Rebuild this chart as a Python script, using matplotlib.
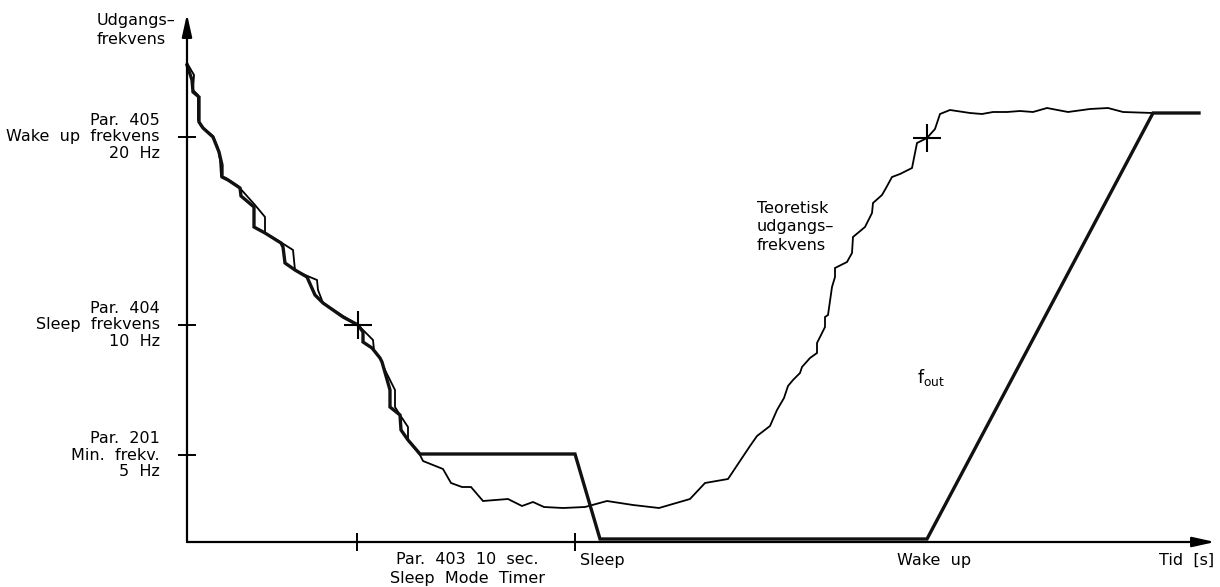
import matplotlib
matplotlib.use("Agg")
import matplotlib.pyplot as plt

# schematic chart units: x = time (tid), y = output frequency (not to scale)
fout_t = [0, 5, 6, 12, 12, 16, 26, 32, 35, 35, 41, 53, 54, 67, 67, 78, 94, 96, 98, 108,
          120, 128, 136, 156, 171, 176, 176, 185, 193, 195, 199, 203, 203, 213, 214, 221,
          233, 388, 413, 740, 966, 1012]
fout_f = [477, 462, 450, 445, 420, 414, 405, 390, 377, 365, 362, 354, 346, 335, 315, 309,
          299, 295, 279, 272, 265, 247, 239, 225, 217, 210, 200, 194, 184, 180, 166, 152,
          135, 127, 112, 102, 88, 88, 3, 3, 429, 429]

theo_t = [0, 7, 6, 11, 11, 14, 26, 31, 33, 34, 39, 51, 68, 78, 78, 95, 106, 108, 118, 130,
          131, 136, 156, 171, 186, 187, 193, 198, 208, 208, 213, 221, 221, 233, 236, 256,
          264, 275, 284, 296, 321, 335, 346, 357, 376, 398, 420, 446, 472, 503, 518, 541,
          563, 570, 583, 590, 597, 601, 606, 613, 615, 623, 630, 630, 638, 638, 641, 645,
          648, 648, 660, 665, 666, 678, 685, 686, 695, 699, 705, 713, 725, 730, 740, 748,
          753, 763, 783, 795, 806, 820, 833, 846, 853, 860, 881, 903, 921, 936, 966, 1012]
theo_f = [479, 467, 452, 447, 422, 416, 406, 394, 382, 366, 364, 356, 337, 325, 309, 299,
          292, 272, 267, 262, 252, 239, 226, 217, 202, 192, 184, 172, 152, 135, 127, 115,
          102, 87, 81, 73, 59, 55, 55, 41, 43, 36, 40, 35, 34, 35, 41, 37, 34, 43, 59, 63,
          96, 106, 116, 132, 144, 156, 162, 169, 175, 184, 189, 199, 215, 225, 227, 255,
          265, 274, 280, 289, 305, 315, 329, 339, 347, 354, 365, 368, 374, 399, 404, 413,
          428, 432, 429, 428, 430, 430, 431, 430, 432, 434, 430, 433, 434, 430, 429, 429]

ytick_pos = [405, 217, 87]
ytick_labels = ["Par.  405\nWake  up  frekvens\n20  Hz",
                "Par.  404\nSleep  frekvens\n10  Hz",
                "Par.  201\nMin.  frekv.\n5  Hz"]
xtick_pos = [170, 388]
cross_t = [171, 740]
cross_f = [217, 404]

plt.rcParams["font.family"] = "DejaVu Sans"
fig = plt.figure(figsize=(12.2, 5.87), dpi=100)
ax = fig.add_axes([0, 0, 1, 1])
ax.set_xlim(-187, 1033)
ax.set_ylim(-45, 542)
ax.axis("off")

# axes with arrows
arrow = dict(arrowstyle="-|>,head_length=0.9,head_width=0.2", lw=1.6, color="black",
             mutation_scale=15, shrinkA=0, shrinkB=0)
ax.annotate("", xy=(1028, 0), xytext=(0, 0), arrowprops=arrow)
ax.annotate("", xy=(0, 528), xytext=(0, 0), arrowprops=arrow)

ax.hlines(ytick_pos, -9, 9, color="black", lw=1.4)
ax.vlines(xtick_pos, -9, 9, color="black", lw=1.4)

ax.plot(theo_t, theo_f, color="black", lw=1.3, solid_joinstyle="miter")
ax.plot(fout_t, fout_f, color="#111111", lw=2.4, solid_joinstyle="miter")
ax.plot(cross_t, cross_f, ls="none", marker="+", ms=20, mew=1.5, color="black")

fs = 11.5
for y, lab in zip(ytick_pos, ytick_labels):
    ax.text(-27, y, lab, ha="right", va="center", fontsize=fs, linespacing=1.12)

ax.text(-90, 512, "Udgangs–\nfrekvens", ha="left", va="center", fontsize=fs, linespacing=1.35)
ax.text(280, -10, "Par.  403  10  sec.\nSleep  Mode  Timer", ha="center", va="top",
        fontsize=fs, linespacing=1.3)
ax.text(393, -18, "Sleep", ha="left", va="center", fontsize=fs)
ax.text(710, -18, "Wake  up", ha="left", va="center", fontsize=fs)
ax.text(1027, -18, "Tid  [s]", ha="right", va="center", fontsize=fs)
ax.text(570, 315, "Teoretisk\nudgangs–\nfrekvens", ha="left", va="center",
        fontsize=fs, linespacing=1.3)
ax.text(730, 164, r"f$_{\mathrm{out}}$", ha="left", va="center", fontsize=fs + 1)

fig.savefig("out.png", dpi=100, facecolor="white")
